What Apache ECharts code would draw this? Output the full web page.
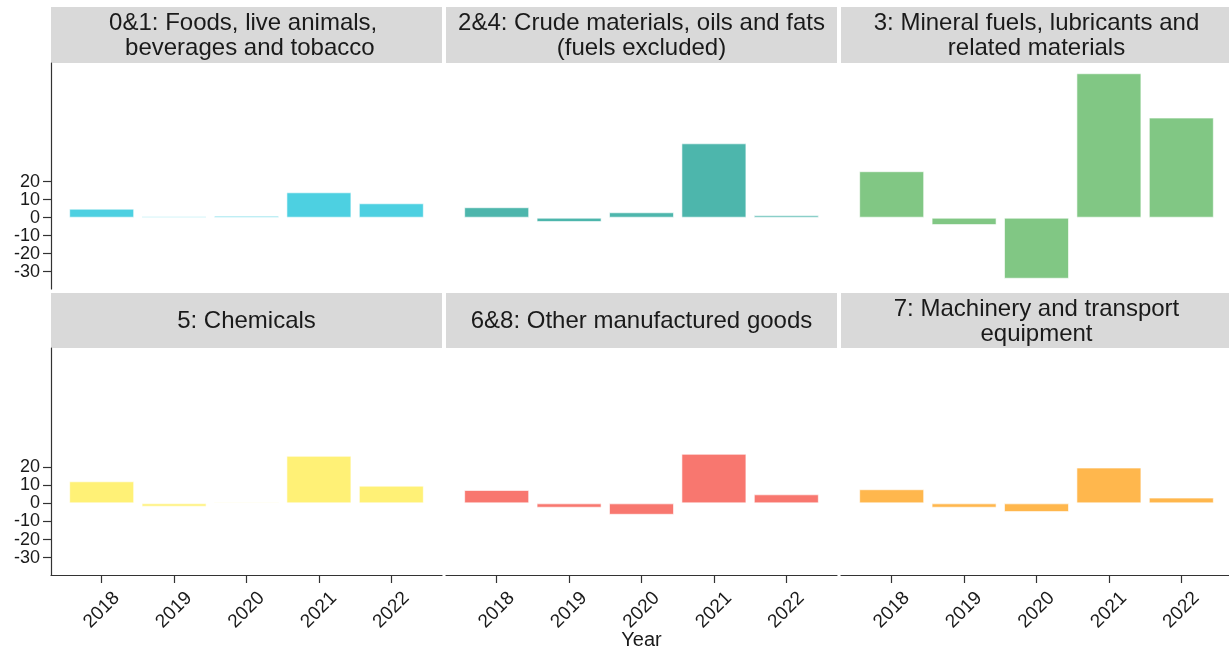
<!DOCTYPE html>
<html>
<head>
<meta charset="utf-8">
<script src="https://cdn.jsdelivr.net/npm/echarts@6/dist/echarts.min.js"></script>
<style>
html,body{margin:0;padding:0;background:#fff;}
#chart{width:1229px;height:647px;}
</style>
</head>
<body>
<div id="chart"></div>
<script>
const years = [2018, 2019, 2020, 2021, 2022];
const panelTitles = [
  "0&1: Foods, live animals, \n beverages and tobacco",
  "2&4: Crude materials, oils and fats\n(fuels excluded)",
  "3: Mineral fuels, lubricants and\nrelated materials",
  "5: Chemicals",
  "6&8: Other manufactured goods",
  "7: Machinery and transport\nequipment"
];
const foods      = [5.0, 0.8, 1.1, 14.1, 8.0];
const crude      = [5.8, -2.4, 3.0, 41.3, 1.3];
const fuels      = [25.8, -4.1, -33.9, 80.2, 55.6];
const chemicals  = [12.2, -1.8, 0.8, 26.3, 9.8];
const otherManuf = [7.4, -2.4, -6.3, 27.4, 5.0];
const machinery  = [7.8, -2.4, -4.8, 19.8, 3.2];
const yTicks = [-30, -20, -10, 0, 10, 20];
const xAxisTitle = "Year";
const colors = ['#4DD0E1', '#4DB6AC', '#81C784', '#FFF176', '#F8776F', '#FFB74D'];

const panelValues = [foods, crude, fuels, chemicals, otherManuf, machinery];

const FONT = 'Liberation Sans, Arial, sans-serif';
const colLeft = [51, 446, 841];
const panelW = 391;
const rowTop = [63, 348];
const rowH = [226, 227];
const stripTop = [7, 293];
const stripH = [56, 55];

const grids = [], xAxes = [], yAxes = [], series = [], graphics = [];
panelValues.forEach((vals, i) => {
  const r = Math.floor(i / 3), c = i % 3;
  grids.push({left: colLeft[c], top: rowTop[r], width: panelW, height: rowH[r], containLabel: false, outerBoundsMode: 'none'});
  const bottom = r === 1;
  xAxes.push({
    type: 'value', gridIndex: i, min: 2017.3, max: 2022.7,
    splitLine: {show: false},
    axisLine: {show: bottom, onZero: false, lineStyle: {color: '#333', width: 1.2}},
    axisTick: {show: bottom, customValues: years, length: 8, lineStyle: {color: '#333', width: 1.2}},
    axisLabel: {show: bottom, customValues: years, rotate: 45, align: 'center', verticalAlign: 'middle',
      margin: 35, fontSize: 19, fontFamily: FONT, color: '#1a1a1a', formatter: v => String(v)},
    name: (i === 4) ? xAxisTitle : '', nameLocation: 'middle', nameGap: 55, nameMoveOverlap: false,
    nameTextStyle: {fontSize: 20, fontFamily: FONT, color: '#1a1a1a'}
  });
  const left = c === 0;
  yAxes.push({
    type: 'value', gridIndex: i, min: -39.6, max: 85.9,
    splitLine: {show: false},
    axisLine: {show: left, onZero: false, lineStyle: {color: '#333', width: 1.2}},
    axisTick: {show: left, customValues: yTicks, length: 8, lineStyle: {color: '#333', width: 1.2}},
    axisLabel: {show: left, customValues: yTicks, margin: 11, fontSize: 18, lineHeight: 17, hideOverlap: false,
      fontFamily: FONT, color: '#1a1a1a'}
  });
  series.push({
    type: 'bar', xAxisIndex: i, yAxisIndex: i, barWidth: 65,
    data: years.map((y, k) => [y, vals[k]]),
    itemStyle: {color: colors[i], borderColor: 'rgba(255,255,255,0.6)', borderWidth: 1},
    silent: true, animation: false
  });
  graphics.push({
    type: 'rect', shape: {x: colLeft[c], y: stripTop[r], width: panelW, height: stripH[r]},
    style: {fill: '#D9D9D9'}, silent: true
  });
  graphics.push({
    type: 'text', x: colLeft[c] + panelW / 2, y: stripTop[r] + stripH[r] / 2 + 1,
    style: {text: panelTitles[i], align: 'center', verticalAlign: 'middle', textAlign: 'center', textVerticalAlign: 'middle',
      fontSize: 24, fontFamily: FONT, fill: '#1a1a1a', lineHeight: 25},
    silent: true
  });
});

const chart = echarts.init(document.getElementById('chart'), null, {renderer: 'canvas'});
chart.setOption({
  backgroundColor: '#fff',
  animation: false,
  grid: grids, xAxis: xAxes, yAxis: yAxes, series: series,
  graphic: graphics
});
</script>
</body>
</html>
